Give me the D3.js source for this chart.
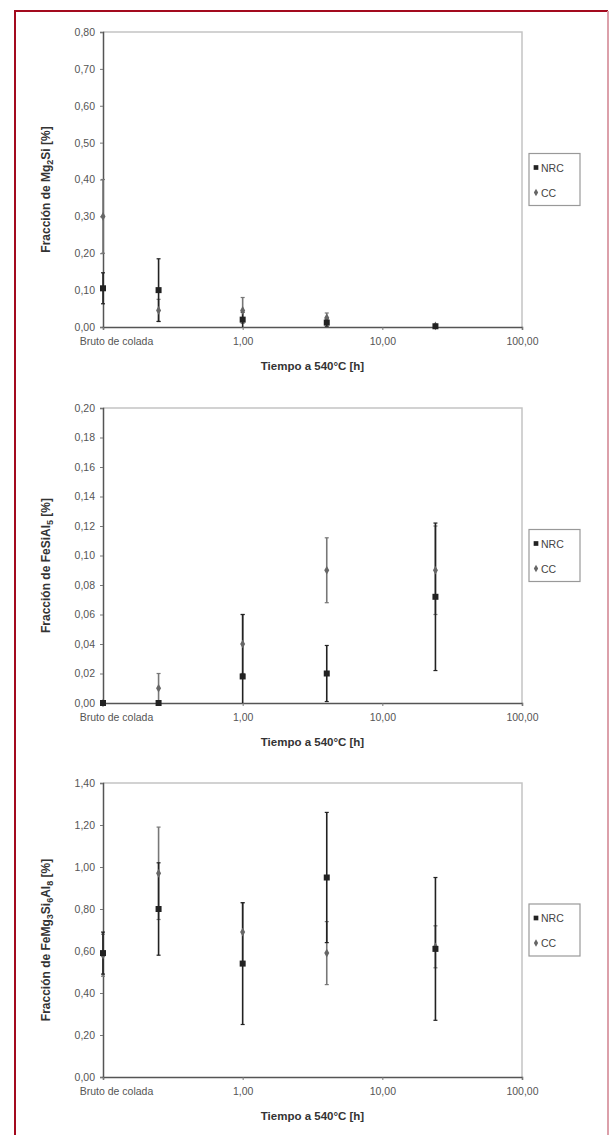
<!DOCTYPE html>
<html>
<head>
<meta charset="utf-8">
<script src="https://cdn.jsdelivr.net/npm/d3@7"></script>
<style>
  body { margin: 0; background: #fff; }
  svg { display: block; font-family: "Liberation Sans", Arial, sans-serif; }
</style>
</head>
<body>
<svg></svg>
<script>
// tiempos (h), el bruto de colada se dibuja en 0,1
const times = [0.1, 0.25, 1, 4, 24];
const xTicks = [0.1, 1, 10, 100];
const xTickLabels = ["Bruto de colada", "1,00", "10,00", "100,00"];
const seriesNames = ["NRC", "CC"];

// Mg2Si
const mgNrc = [0.105, 0.10, 0.02, 0.012, 0.002];
const mgNrcErr = [0.042, 0.085, 0.02, 0.01, 0.003];
const mgCc = [0.30, 0.045, 0.045, 0.025, 0.003];
const mgCcErr = [0.10, 0.03, 0.035, 0.013, 0.003];
const mgTicks = [0, 0.1, 0.2, 0.3, 0.4, 0.5, 0.6, 0.7, 0.8];

// FeSiAl5
const feNrc = [0, 0, 0.018, 0.02, 0.072];
const feNrcErr = [0, 0, 0.042, 0.019, 0.05];
const feCc = [0, 0.01, 0.04, 0.09, 0.09];
const feCcErr = [0, 0.01, 0.02, 0.022, 0.03];
const feTicks = [0, 0.02, 0.04, 0.06, 0.08, 0.10, 0.12, 0.14, 0.16, 0.18, 0.20];

// FeMg3Si6Al8
const piNrc = [0.59, 0.80, 0.54, 0.95, 0.61];
const piNrcErr = [0.10, 0.22, 0.29, 0.31, 0.34];
const piCc = [0.58, 0.97, 0.69, 0.59, 0.62];
const piCcErr = [0.10, 0.22, 0.14, 0.15, 0.10];
const piTicks = [0, 0.2, 0.4, 0.6, 0.8, 1.0, 1.2, 1.4];

const width = 610;
const height = 1135;
const svg = d3.select("svg").attr("width", width).attr("height", height);

// marco rojo (el lado derecho sale más claro en el original)
svg.append("path")
    .attr("d", "M15,1140V11H608")
    .attr("fill", "none")
    .attr("stroke", "#a30a1e")
    .attr("stroke-width", 2);
svg.append("path")
    .attr("d", "M608,11V1140")
    .attr("fill", "none")
    .attr("stroke", "#dca0aa")
    .attr("stroke-width", 2);

const left = 103, right = 522;
const x = d3.scaleLog().domain([0.1, 100]).range([left, right]);
const fmt = v => v.toFixed(2).replace(".", ",");

const panels = [
  { top: 32, bottom: 327, max: 0.8, ticks: mgTicks, nrc: mgNrc, nrcErr: mgNrcErr, cc: mgCc, ccErr: mgCcErr,
    title: ["Fracción de Mg", "2", "Si [%]"] },
  { top: 408, bottom: 703, max: 0.2, ticks: feTicks, nrc: feNrc, nrcErr: feNrcErr, cc: feCc, ccErr: feCcErr,
    title: ["Fracción de FeSiAl", "5", " [%]"] },
  { top: 783, bottom: 1077, max: 1.4, ticks: piTicks, nrc: piNrc, nrcErr: piNrcErr, cc: piCc, ccErr: piCcErr,
    title: ["Fracción de FeMg", "3", "Si", "6", "Al", "8", " [%]"] }
];

panels.forEach(drawPanel);

function drawPanel(p) {
  const y = d3.scaleLinear().domain([0, p.max]).range([p.bottom, p.top]);
  const g = svg.append("g");

  // borde gris del área de trazado
  g.append("path")
      .attr("d", `M${left},${p.top}H${right}V${p.bottom}`)
      .attr("fill", "none")
      .attr("stroke", "#c4c4c4")
      .attr("stroke-width", 1.5);

  const yAxis = g.append("g")
      .attr("transform", `translate(${left},0)`)
      .call(d3.axisLeft(y).tickValues(p.ticks).tickFormat(fmt).tickSize(3).tickPadding(5));
  yAxis.select(".domain").attr("stroke", "#555").attr("stroke-width", 1.5);
  yAxis.selectAll("line").attr("stroke", "#777");
  yAxis.selectAll("text").attr("font-size", 10.5).attr("fill", "#555");

  const xAxis = g.append("g")
      .attr("transform", `translate(0,${p.bottom})`)
      .call(d3.axisBottom(x).tickValues(xTicks).tickFormat((d, i) => xTickLabels[i]).tickSize(3).tickPadding(8));
  xAxis.select(".domain").attr("stroke", "#555").attr("stroke-width", 1.5);
  xAxis.selectAll("line").attr("stroke", "#777");
  xAxis.selectAll("text").attr("font-size", 10.5).attr("fill", "#555");
  xAxis.selectAll(".tick").filter(d => d === 0.1).select("text").attr("x", 13);

  g.append("text")
      .attr("x", (left + right) / 2)
      .attr("y", p.bottom + 43)
      .attr("text-anchor", "middle")
      .attr("font-size", 11.5)
      .attr("font-weight", "bold")
      .attr("fill", "#333")
      .text("Tiempo a 540°C [h]");

  const yt = g.append("text")
      .attr("transform", `translate(50,${(p.top + p.bottom) / 2 + 10}) rotate(-90)`)
      .attr("text-anchor", "middle")
      .attr("font-size", 12)
      .attr("font-weight", "bold")
      .attr("fill", "#333");
  p.title.forEach((s, i) => {
    const sub = i % 2 === 1;
    yt.append("tspan")
        .attr("font-size", sub ? 9 : 12)
        .attr("dy", sub ? 3 : (i > 0 ? -3 : 0))
        .text(s);
  });

  const clampY = v => y(Math.max(0, Math.min(p.max, v)));

  // barras de error
  [[p.cc, p.ccErr, "#777"], [p.nrc, p.nrcErr, "#222"]].forEach(([vals, errs, col]) => {
    const eb = g.append("g").selectAll("g")
        .data(times.map((t, i) => ({ t, v: vals[i], e: errs[i] })).filter(d => d.e > 0))
        .join("g");
    eb.append("line")
        .attr("x1", d => x(d.t)).attr("x2", d => x(d.t))
        .attr("y1", d => clampY(d.v - d.e)).attr("y2", d => clampY(d.v + d.e))
        .attr("stroke", col).attr("stroke-width", 1.6);
    eb.append("line")
        .attr("x1", d => x(d.t) - 2).attr("x2", d => x(d.t) + 2)
        .attr("y1", d => clampY(d.v + d.e)).attr("y2", d => clampY(d.v + d.e))
        .attr("stroke", col).attr("stroke-width", 1.2);
    eb.filter(d => d.v - d.e > 0).append("line")
        .attr("x1", d => x(d.t) - 2).attr("x2", d => x(d.t) + 2)
        .attr("y1", d => clampY(d.v - d.e)).attr("y2", d => clampY(d.v - d.e))
        .attr("stroke", col).attr("stroke-width", 1.2);
  });

  // CC: rombos
  g.append("g").selectAll("path")
      .data(times.map((t, i) => ({ t, v: p.cc[i] })))
      .join("path")
      .attr("d", d3.symbol(d3.symbolDiamond, 22))
      .attr("transform", d => `translate(${x(d.t)},${y(d.v)})`)
      .attr("fill", "#666");

  // NRC: cuadrados
  g.append("g").selectAll("path")
      .data(times.map((t, i) => ({ t, v: p.nrc[i] })))
      .join("path")
      .attr("d", d3.symbol(d3.symbolSquare, 36))
      .attr("transform", d => `translate(${x(d.t)},${y(d.v)})`)
      .attr("fill", "#222");

  // leyenda
  const cy = (p.top + p.bottom) / 2;
  const lg = g.append("g").attr("transform", `translate(529,${cy - 26})`);
  lg.append("rect")
      .attr("width", 51).attr("height", 52)
      .attr("fill", "#fff")
      .attr("stroke", "#999").attr("stroke-width", 1.2);
  seriesNames.forEach((name, i) => {
    const ly = 14 + i * 25;
    lg.append("path")
        .attr("d", d3.symbol(i === 0 ? d3.symbolSquare : d3.symbolDiamond, i === 0 ? 22 : 16))
        .attr("transform", `translate(7,${ly})`)
        .attr("fill", i === 0 ? "#222" : "#666");
    lg.append("text")
        .attr("x", 12).attr("y", ly + 4)
        .attr("font-size", 10.5)
        .attr("fill", "#444")
        .text(name);
  });
}
</script>
</body>
</html>
